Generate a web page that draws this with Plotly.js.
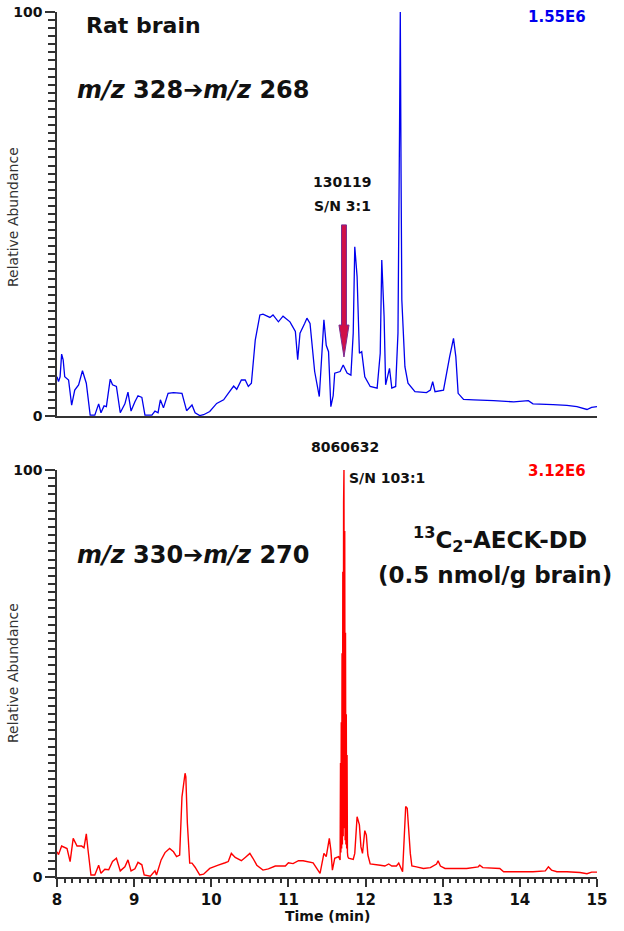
<!DOCTYPE html>
<html>
<head>
<meta charset="utf-8">
<script src="https://cdn.plot.ly/plotly-3.0.1.min.js"></script>
</head>
<body style="margin:0">
<div id="chart" style="width:624px;height:931px"></div>
<script>
// Top trace: m/z 328 -> m/z 268 (rat brain), relative abundance vs time (min)
var timeTop = [8.00, 8.02, 8.04, 8.06, 8.08, 8.10, 8.15, 8.19, 8.23, 8.28, 8.33, 8.38, 8.43, 8.49, 8.54, 8.57,
  8.61, 8.64, 8.69, 8.72, 8.77, 8.82, 8.88, 8.92, 8.96, 9.01, 9.05, 9.10, 9.14, 9.23, 9.27, 9.31, 9.34, 9.38,
  9.44, 9.51, 9.62, 9.68, 9.75, 9.79, 9.85, 9.90, 9.98, 10.07, 10.16, 10.22, 10.29, 10.33, 10.39, 10.44, 10.48,
  10.52, 10.57, 10.63, 10.67, 10.76, 10.80, 10.87, 10.93, 11.02, 11.09, 11.12, 11.15, 11.21, 11.24, 11.28, 11.34,
  11.40, 11.43, 11.46, 11.49, 11.52, 11.55, 11.58, 11.60, 11.67, 11.71, 11.76, 11.81, 11.84, 11.86, 11.89, 11.92,
  11.95, 11.99, 12.06, 12.15, 12.19, 12.21, 12.24, 12.26, 12.31, 12.34, 12.39, 12.42, 12.44, 12.45, 12.46, 12.47,
  12.51, 12.55, 12.64, 12.79, 12.84, 12.87, 12.90, 13.01, 13.09, 13.14, 13.17, 13.20, 13.27, 13.40, 13.66, 13.92,
  14.11, 14.17, 14.43, 14.61, 14.74, 14.87, 14.93, 15.00];
var relTop = [9.7, 8.5, 9.7, 15.3, 13.9, 9.7, 8.9, 2.7, 6.4, 7.7, 11.2, 8.1, 0.2, 0.2, 3.0, 0.8,
  2.5, 2.3, 9.1, 7.7, 7.3, 0.8, 3.0, 5.9, 1.2, 3.5, 5.0, 4.6, 0.2, 0.2, 1.2, 0.8, 4.0, 2.0,
  5.6, 5.8, 5.6, 1.3, 2.7, 0.8, 0.1, 0.3, 1.1, 3.1, 4.0, 5.6, 7.4, 6.6, 8.9, 8.9, 7.3,
  8.1, 18.8, 25.0, 25.2, 24.4, 25.0, 23.3, 24.7, 23.3, 20.9, 13.9, 20.5, 22.9, 24.2, 22.9, 11.0,
  4.8, 14.3, 23.8, 17.5, 15.9, 2.3, 5.0, 10.6, 11.0, 12.6, 10.6, 10.1, 20.5, 41.9, 34.5, 15.5,
  15.9, 9.7, 7.3, 6.9, 15.5, 38.6, 24.6, 7.7, 11.8, 6.9, 7.3, 20.5, 70, 100, 60, 28.7,
  12.2, 8.1, 6.0, 5.8, 6.4, 8.5, 6.0, 6.4, 14.7, 19.2, 14.7, 5.6, 4.1, 4.0, 3.8, 3.5,
  3.8, 3.0, 2.8, 2.6, 2.3, 1.6, 2.1, 2.3];

// Bottom trace: m/z 330 -> m/z 270 (13C2-AECK-DD internal standard)
var timeBottom = [8.00, 8.02, 8.06, 8.13, 8.17, 8.21, 8.26, 8.32, 8.35, 8.38, 8.40, 8.44, 8.49, 8.54, 8.57, 8.62,
  8.67, 8.72, 8.77, 8.82, 8.88, 8.92, 8.96, 9.01, 9.05, 9.10, 9.13, 9.21, 9.27, 9.29, 9.35, 9.40, 9.46, 9.51,
  9.55, 9.59, 9.62, 9.66, 9.67, 9.69, 9.72, 9.75, 9.79, 9.85, 9.90, 9.98, 10.09, 10.18, 10.22, 10.26, 10.31,
  10.39, 10.44, 10.50, 10.54, 10.59, 10.67, 10.74, 10.83, 10.96, 11.00, 11.06, 11.13, 11.19, 11.32, 11.41, 11.46,
  11.49, 11.53, 11.55, 11.57, 11.60, 11.65, 11.67, 11.675, 11.68, 11.685, 11.69, 11.695, 11.70, 11.705, 11.71,
  11.715, 11.72, 11.725, 11.73, 11.735, 11.74, 11.745, 11.75, 11.755, 11.76, 11.765, 11.77, 11.78, 11.84, 11.86,
  11.89, 11.92, 11.94, 11.96, 11.99, 12.01, 12.03, 12.06, 12.19, 12.25, 12.30, 12.34, 12.40, 12.43, 12.48, 12.52,
  12.54, 12.58, 12.60, 12.66, 12.75, 12.84, 12.92, 12.94, 12.97, 13.03, 13.31, 13.46, 13.48, 13.52, 13.74, 13.79,
  14.17, 14.33, 14.37, 14.41, 14.48, 14.61, 14.78, 14.87, 14.93, 15.00];
var relBottom = [6.2, 5.5, 7.6, 7.0, 3.8, 9.5, 7.6, 7.6, 7.2, 10.6, 7.0, 0.5, 0.5, 2.9, 0.9, 1.9,
  1.8, 3.8, 4.6, 1.5, 2.5, 4.2, 1.5, 2.0, 3.6, 3.0, 0.5, 0.2, 1.5, 0.5, 4.2, 6.0, 7.0, 6.2,
  5.0, 5.4, 19.7, 25.5, 24.6, 13.2, 3.4, 3.4, 2.4, 0.5, 0.7, 2.1, 2.9, 3.5, 3.8, 5.8, 4.8,
  4.0, 4.8, 5.8, 4.6, 2.9, 1.7, 2.0, 2.7, 2.7, 3.5, 3.3, 4.0, 4.0, 3.5, 0.9, 5.8,
  5.0, 9.5, 6.6, 1.7, 4.6, 5.0, 4.2, 28, 6, 38, 7, 55, 8, 75, 10,
  92, 100, 12, 85, 9, 60, 8, 40, 7, 30, 6, 5, 4.6, 4.3, 5.8,
  14.8, 12.8, 7.4, 5.8, 11.4, 10.3, 5.4, 3.2, 2.9, 2.7, 3.2, 2.7, 2.7, 3.4, 1.3, 17.3,
  16.9, 5.8, 2.7, 2.5, 2.1, 2.3, 3.2, 4.0, 2.7, 2.1, 2.1, 2.5, 2.9, 2.3, 2.1, 1.3,
  1.3, 1.5, 2.5, 1.7, 1.3, 1.3, 1.1, 0.8, 1.2, 1.2];

var xTicks = [8, 9, 10, 11, 12, 13, 14, 15];
var yTicks = [0, 100];

var FONT = 'DejaVu Sans';

// pixel helpers for placing text (plot area: x 57..597, y 12..877)
function px(x) { return (x - 57) / 540; }
function py(y) { return (877 - y) / 865; }

// axis builders, same pattern as the version whose ticks rendered
function xAxis(dom, anchor, extra) {
  var a = {domain: dom, anchor: anchor, range: [8, 15], ticks: 'outside', ticklen: 8, tickwidth: 1.5, tickcolor: '#333',
    showline: true, linecolor: '#333', linewidth: 1.5,
    minor: {dtick: 0.1, ticks: 'outside', ticklen: 4, tickcolor: '#333'}};
  for (var k in extra) a[k] = extra[k];
  return a;
}
function yAxis(dom, anchor) {
  return {domain: dom, anchor: anchor, range: [0, 100], tickvals: yTicks,
    ticks: 'outside', ticklen: 10, tickwidth: 1.5, tickcolor: '#333',
    showline: true, linecolor: '#333', linewidth: 1.5,
    minor: {dtick: 2, ticks: 'outside', ticklen: 7, tickcolor: '#333'},
    showgrid: false, zeroline: false,
    tickfont: {family: FONT, size: 14, color: '#111', weight: 'bold'}};
}

var layout = {
  width: 624, height: 931,
  margin: {l: 57, r: 27, t: 12, b: 54},
  showlegend: false,
  xaxis: xAxis([0, 1], 'y', {tickvals: xTicks, showgrid: false, zeroline: false,
    tickfont: {family: FONT, size: 15, color: '#111', weight: 'bold'}}),
  yaxis: yAxis([0, 0.4705], 'x'),
  xaxis2: xAxis([0, 1], 'y2', {ticks: '', minor: {ticks: ''}, showticklabels: false,
    showgrid: false, zeroline: false}),
  yaxis2: yAxis([0.533, 1], 'x2')
};

function label(text, x, y, opts) {
  var a = {
    xref: 'paper', yref: 'paper', x: px(x), y: py(y), text: text, showarrow: false,
    xanchor: 'left', yanchor: 'middle',
    font: {family: FONT, size: 14, color: '#111'}
  };
  for (var k in opts) a[k] = opts[k];
  return a;
}

layout.annotations = [
  label('<b>Rat brain</b>', 84, 26, {font: {family: FONT, size: 22, color: '#111'}}),
  label('<b><i>m/z</i> 328➔<i>m/z</i> 268</b>', 75, 90, {font: {family: FONT, size: 24, color: '#111'}}),
  label('<b>1.55E6</b>', 588, 17, {xanchor: 'right', font: {family: FONT, size: 15, color: '#0000ee'}}),
  label('<b>130119</b>', 342, 182, {xanchor: 'center'}),
  label('<b>S/N 3:1</b>', 342, 206, {xanchor: 'center'}),
  label('<b>8060632</b>', 345, 447, {xanchor: 'center'}),
  label('<b>S/N 103:1</b>', 347, 478, {}),
  label('<b>3.12E6</b>', 588, 471, {xanchor: 'right', font: {family: FONT, size: 15, color: '#ff0000'}}),
  label('<b><i>m/z</i> 330➔<i>m/z</i> 270</b>', 75, 555, {font: {family: FONT, size: 24, color: '#111'}}),
  label('<b><sup>13</sup>C<sub>2</sub>-AECK-DD</b>', 500, 540, {xanchor: 'center', font: {family: FONT, size: 23, color: '#111'}}),
  label('<b>(0.5 nmol/g brain)</b>', 495, 575, {xanchor: 'center', font: {family: FONT, size: 23, color: '#111'}}),
  label('<b>Time (min)</b>', 327, 916, {xanchor: 'center', font: {family: FONT, size: 14, color: '#111'}}),
  label('Relative Abundance', 13, 217, {xanchor: 'center', textangle: -90, font: {family: FONT, size: 14, color: '#333'}}),
  label('Relative Abundance', 13, 673, {xanchor: 'center', textangle: -90, font: {family: FONT, size: 14, color: '#333'}})
];

// red block arrow pointing at the S/N 3:1 peak (tip at 11.72 min, 14.6 %)
var arrowX = 11.72, arrowTip = 14.6, arrowNeck = 22.5, arrowTail = 47.3;
var headHalf = 0.065, shaftHalf = 0.032;
layout.shapes = [{
  type: 'path', xref: 'x2', yref: 'y2',
  path: 'M' + arrowX + ',' + arrowTip +
    ' L' + (arrowX - headHalf) + ',' + arrowNeck +
    ' L' + (arrowX - shaftHalf) + ',' + arrowNeck +
    ' L' + (arrowX - shaftHalf) + ',' + arrowTail +
    ' L' + (arrowX + shaftHalf) + ',' + arrowTail +
    ' L' + (arrowX + shaftHalf) + ',' + arrowNeck +
    ' L' + (arrowX + headHalf) + ',' + arrowNeck + ' Z',
  fillcolor: '#d01048', line: {color: '#7a2a90', width: 1}
}];

var data = [
  {x: timeBottom, y: relBottom, mode: 'lines', xaxis: 'x', yaxis: 'y',
    line: {color: '#ff0000', width: 1.4, simplify: false}},
  {x: timeTop, y: relTop, mode: 'lines', xaxis: 'x2', yaxis: 'y2',
    line: {color: '#0000ee', width: 1.3, simplify: false}}
];

Plotly.newPlot('chart', data, layout, {displayModeBar: false});
</script>
</body>
</html>
